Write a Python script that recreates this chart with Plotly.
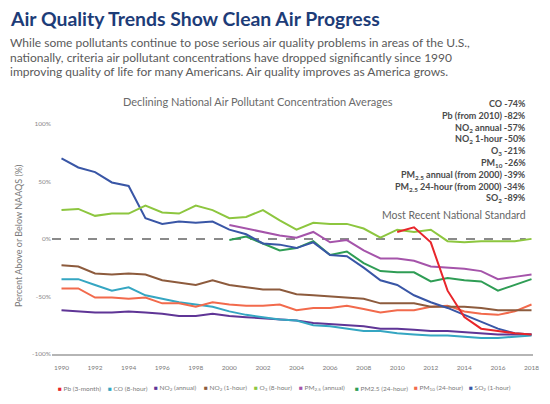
import plotly.graph_objects as go

# ---------------- data ----------------
years = list(range(1990, 2019))
years_2000 = list(range(2000, 2019))
years_2010 = list(range(2010, 2019))

pb = [6, 10, -3, -45, -68, -78, -80, -82, -83]
co = [-35, -35, -40, -45, -42, -49, -52, -55, -57, -59, -63, -66, -68, -70, -71,
      -75, -76, -78, -80, -80, -82, -83, -84, -84, -85, -86, -86, -85, -84]
no2_annual = [-62, -63, -64, -64, -63, -64, -65, -67, -67, -65, -67, -68, -69, -70, -71,
              -73, -74, -75, -76, -78, -78, -79, -80, -80, -81, -82, -83, -83, -83]
no2_1hr = [-23, -24, -30, -31, -30, -31, -36, -38, -40, -36, -40, -42, -44, -44, -48,
           -49, -50, -51, -52, -56, -56, -56, -59, -59, -59, -60, -62, -62, -62]
o3 = [25, 26, 20, 22, 22, 29, 23, 22, 29, 25, 18, 19, 25, 16, 8,
      14, 13, 13, 9, 1, 8, 6, 8, -2, -3, -2, -2, -2, 0]
pm25_annual = [12, 9, 6, 3, 1, 6, -3, -1, -10, -17, -17, -19, -24, -25, -26, -28, -35, -33, -31]
pm25_24hr = [-1, 2, -4, -10, -8, -2, -14, -11, -21, -28, -29, -29, -37, -34, -36, -37, -45, -40, -35]
pm10 = [-43, -43, -51, -51, -52, -51, -56, -56, -59, -55, -57, -58, -58, -57, -62,
        -60, -60, -58, -61, -64, -62, -62, -59, -58, -63, -65, -66, -63, -57]
so2 = [70, 62, 58, 49, 46, 18, 13, 15, 14, 15, 8, 4, -4, -5, -8,
       -3, -14, -15, -25, -36, -40, -49, -55, -60, -66, -72, -78, -82, -83]

legend_labels = ["Pb (3-month)", "CO (8-hour)", "NO<sub>2</sub> (annual)", "NO<sub>2</sub> (1-hour)",
                 "O<sub>3</sub> (8-hour)", "PM<sub>2.5</sub> (annual)", "PM2.5 (24-hour)",
                 "PM<sub>10</sub> (24-hour)", "SO<sub>2</sub> (1-hour)"]

summary_lines = ["CO -74%", "Pb (from 2010) -82%", "NO<sub>2</sub> annual -57%", "NO<sub>2</sub> 1-hour -50%",
                 "O<sub>3</sub> -21%", "PM<sub>10</sub> -26%", "PM<sub>2.5</sub> annual (from 2000) -39%",
                 "PM<sub>2.5</sub> 24-hour (from 2000) -34%", "SO<sub>2</sub> -89%"]

x_ticks = list(range(1990, 2019, 2))
y_ticks = [100, 50, 0, -50, -100]
y_ticktext = ["100%", "50%", "0%", "-50%", "-100%"]

# ---------------- styling ----------------
colors = {
    "pb": "#e8262b", "co": "#35a6c2", "no2a": "#5f3596", "no2h": "#8d5b3d", "o3": "#8dc63f",
    "pm25a": "#a554aa", "pm25h": "#2f9d55", "pm10": "#f26a4c", "so2": "#3956a6",
}
series = [
    (years, no2_annual, "no2a"), (years, co, "co"), (years, pm10, "pm10"), (years, no2_1hr, "no2h"),
    (years_2000, pm25_annual, "pm25a"), (years_2000, pm25_24hr, "pm25h"), (years, so2, "so2"),
    (years, o3, "o3"), (years_2010, pb, "pb"),
]
legend_keys = ["pb", "co", "no2a", "no2h", "o3", "pm25a", "pm25h", "pm10", "so2"]

FONT = "Lato"
L, R, T, B = 52, 533, 118, 354
W, H = 550, 404


def px_x(px):
    return (px - L) / (R - L)


def px_y(py):
    return (B - py) / (B - T)


fig = go.Figure()
for xs, ys, key in series:
    fig.add_trace(go.Scatter(x=xs, y=ys, mode="lines", line=dict(color=colors[key], width=2),
                             showlegend=False, hoverinfo="skip"))

# national standard dashed line
fig.add_shape(type="line", xref="paper", yref="y", x0=0, x1=0.985, y0=0, y1=0,
              line=dict(color="#8a8a8a", width=2, dash="dash"), layer="below")

ann = []


def add_text(text, px, py, xanchor="left", size=10, color="#555", **kw):
    ann.append(dict(text=text, x=px_x(px), y=px_y(py), xref="paper", yref="paper",
                    xanchor=xanchor, yanchor="middle", showarrow=False,
                    font=dict(family=FONT, size=size, color=color), **kw))


add_text("<b>Air Quality Trends Show Clean Air Progress</b>", 8, 18, size=19.4, color="#1d3c78")
sub = ["While some pollutants continue to pose serious air quality problems in areas of the U.S.,",
       "nationally, criteria air pollutant concentrations have dropped significantly since 1990",
       "improving quality of life for many Americans. Air quality improves as America grows."]
for i, s in enumerate(sub):
    add_text(s, 8, 43 + 14 * i, size=12, color="#5a5a5a")
add_text("Declining National Air Pollutant Concentration Averages", 258, 102, xanchor="center",
         size=11, color="#6a6a6a")
for i, s in enumerate(summary_lines):
    add_text("<b>" + s + "</b>", 528, 104 + 11.8 * i, xanchor="right", size=9, color="#4a4a4a")
add_text("Most Recent National Standard", 528, 215, xanchor="right", size=10.5, color="#666666")
add_text("Percent Above or Below NAAQS (%)", 18, 236, xanchor="center", size=9, color="#7a7a7a",
         textangle=-90)
legend_x = [56, 106, 152, 202, 252, 297, 353, 412, 467]
for lx, key, lab in zip(legend_x, legend_keys, legend_labels):
    add_text(f"<span style='color:{colors[key]}'>■</span> {lab}", lx, 388, size=6.5, color="#7a7a7a")

fig.update_layout(
    width=W, height=H, margin=dict(l=L, r=W - R, t=T, b=H - B),
    paper_bgcolor="white", plot_bgcolor="white",
    annotations=ann,
    xaxis=dict(range=[1989.434, 2018.089], tickvals=x_ticks, ticktext=[str(v) for v in x_ticks],
               showgrid=False, zeroline=False, showline=True, linecolor="#b5b5b5", linewidth=1.5,
               ticks="", tickfont=dict(family=FONT, size=6.5, color="#7a7a7a"), ticklabelstandoff=6),
    yaxis=dict(range=[-100, 105], tickvals=y_ticks, ticktext=y_ticktext, showgrid=False,
               zeroline=False, showline=False, ticks="",
               tickfont=dict(family=FONT, size=6.5, color="#8a8a8a")),
)

fig.write_html("out.html", config={"displayModeBar": False},
               post_script="document.body.style.margin='0';")
